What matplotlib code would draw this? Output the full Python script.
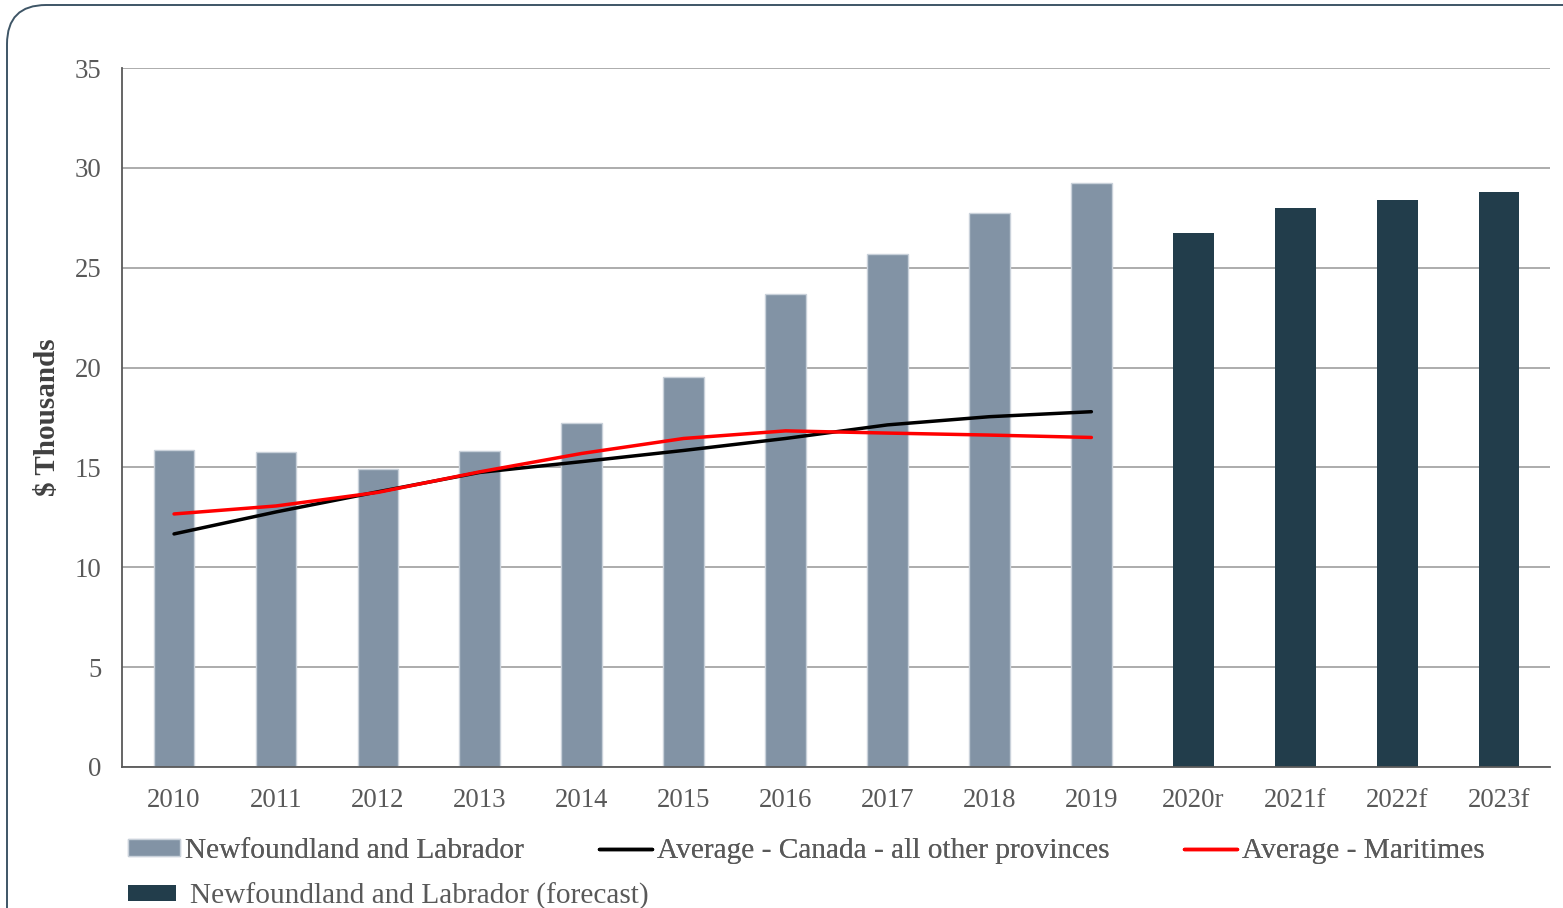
import matplotlib.pyplot as plt
from matplotlib.patches import FancyBboxPatch
import numpy as np

plt.rcParams['font.family'] = ['Liberation Serif', 'DejaVu Serif']

years = ['2010', '2011', '2012', '2013', '2014', '2015', '2016', '2017',
         '2018', '2019', '2020r', '2021f', '2022f', '2023f']
nl_actual = [15.87, 15.77, 14.92, 15.82, 17.22, 19.55, 23.66, 25.67, 27.76, 29.24]
nl_forecast = [26.74, 27.99, 28.41, 28.79]
avg_canada = [11.67, 12.77, 13.78, 14.75, 15.29, 15.85, 16.45, 17.13, 17.54, 17.79]
avg_maritimes = [12.67, 13.07, 13.75, 14.78, 15.70, 16.45, 16.83, 16.72, 16.62, 16.50]

grey_bar = '#8293a5'
dark_bar = '#223d4b'
text_col = '#595959'

fig = plt.figure(figsize=(15.63, 9.08), dpi=100)
ax = fig.add_axes([0.0781, 0.1553, 0.9136, 0.7698])

x = np.arange(len(years))
n_act = len(nl_actual)
ax.bar(x[:n_act], nl_actual, width=0.4, color=grey_bar, edgecolor='#c9d1da',
       linewidth=1, label='Newfoundland and Labrador', zorder=2)
ax.bar(x[n_act:], nl_forecast, width=0.4, color=dark_bar,
       label='Newfoundland and Labrador (forecast)', zorder=2)
ax.plot(x[:n_act], avg_canada, color='black', lw=2.5, solid_capstyle='round',
        label='Average - Canada - all other provinces', zorder=3)
ax.plot(x[:n_act], avg_maritimes, color='#ff0000', lw=2.5, solid_capstyle='round',
        label='Average - Maritimes', zorder=3)

ax.set_xlim(-0.51, 13.5)
ax.set_ylim(0, 35)
ax.set_yticks(range(0, 36, 5))
ax.set_xticks(x)
ax.set_xticklabels(years)
ax.tick_params(axis='both', length=0, labelsize=19.3, labelcolor=text_col)
ax.tick_params(axis='x', pad=15)
ax.tick_params(axis='y', pad=15)
ax.yaxis.grid(True, color='#a6a6a6', lw=1.3, zorder=0)
ax.set_axisbelow(True)
for side in ['top', 'right']:
    ax.spines[side].set_visible(False)
for side in ['left', 'bottom']:
    ax.spines[side].set_color('#595959')
    ax.spines[side].set_linewidth(1.3)
ax.set_ylabel('$ Thousands', fontsize=21, fontweight='bold', color='#404040',
              labelpad=10)

# legend: three entries on the first row, forecast bars on the second
handles, labels = ax.get_legend_handles_labels()
lookup = dict(zip(labels, handles))
row1 = ['Newfoundland and Labrador', 'Average - Canada - all other provinces',
        'Average - Maritimes']
leg1 = fig.legend([lookup[k] for k in row1], row1, loc='center left',
                  bbox_to_anchor=(128 / 1563, 1 - 851 / 908), ncol=3,
                  frameon=False, fontsize=21.2, labelcolor=text_col,
                  borderpad=0, borderaxespad=0, handlelength=1.78,
                  handleheight=0.5, handletextpad=0.17, columnspacing=2.55)
fig.add_artist(leg1)
row2 = ['Newfoundland and Labrador (forecast)']
fig.legend([lookup[k] for k in row2], row2, loc='center left',
           bbox_to_anchor=(128 / 1563, 1 - 896 / 908),
           frameon=False, fontsize=21.2, labelcolor=text_col,
           borderpad=0, borderaxespad=0, handlelength=1.64,
           handleheight=0.45, handletextpad=0.48)

# rounded outline around the chart area
W, H = 1563, 908
frame = FancyBboxPatch((7 / W, -60 / H), 1620 / W, 963 / H,
                       boxstyle='round,pad=0,rounding_size=0.025',
                       transform=fig.transFigure, fill=False,
                       edgecolor='#3e5566', lw=1.4, clip_on=False,
                       mutation_aspect=W / H)
fig.patches.append(frame)

fig.savefig('out.png', dpi=100)
